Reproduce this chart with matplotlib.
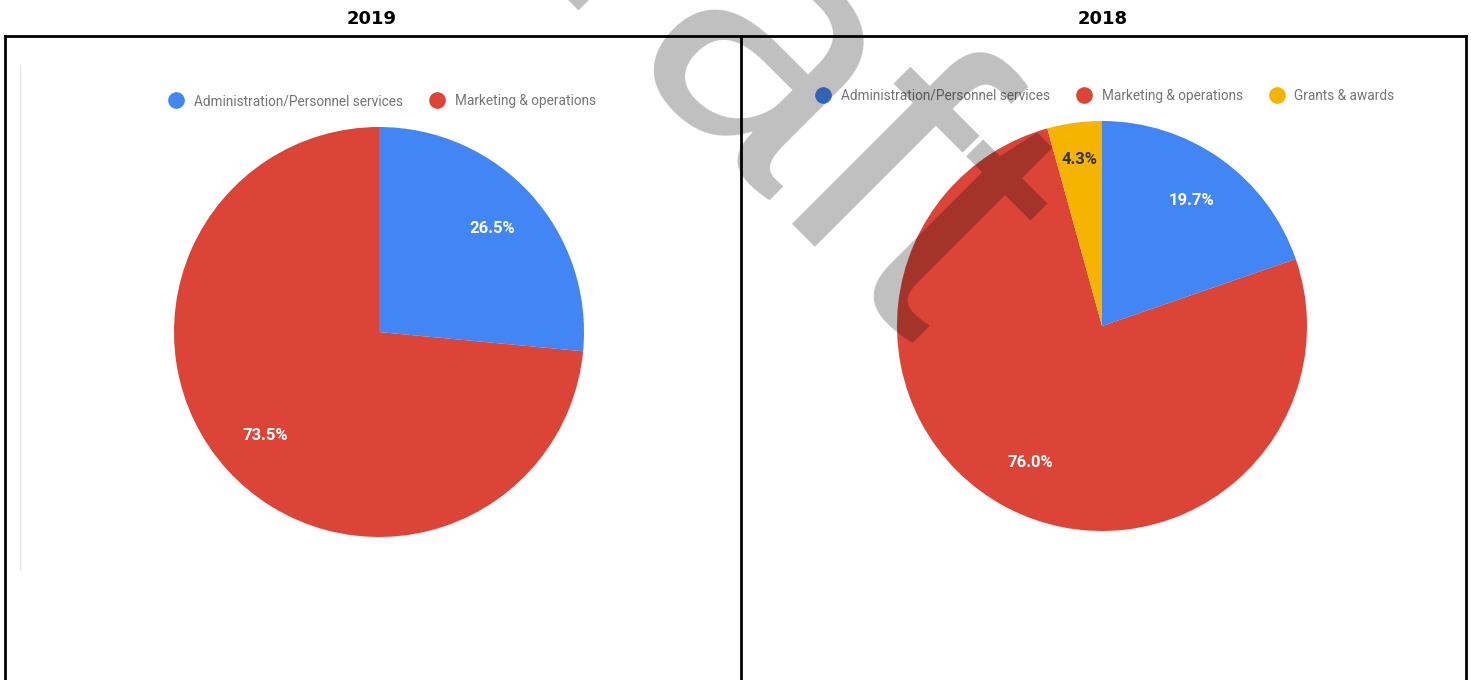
import matplotlib.pyplot as plt
from matplotlib.lines import Line2D

# data
years = ["2019", "2018"]
labels_2019 = ["Administration/Personnel services", "Marketing & operations"]
values_2019 = [26.5, 73.5]
labels_2018 = ["Administration/Personnel services", "Marketing & operations", "Grants & awards"]
values_2018 = [19.7, 76.0, 4.3]

colors = ["#4285F4", "#DB4437", "#F4B400"]

W, H = 1471, 680
fig = plt.figure(figsize=(W / 100, H / 100), dpi=100)


def px_axes(cx, cy, r):
    # axes box in figure fraction from pixel centre/radius
    return fig.add_axes([(cx - r) / W, (H - cy - r) / H, 2 * r / W, 2 * r / H])


def draw_pie(ax, values, labels, leg_y, leg_x):
    wedges, texts, autotexts = ax.pie(values, colors=colors[:len(values)], startangle=90,
                                      counterclock=False, autopct="%.1f%%", pctdistance=0.75,
                                      wedgeprops=dict(linewidth=0))
    for t, v in zip(autotexts, values):
        t.set_color("white" if v > 10 else "#333333")
        t.set_fontsize(12)
        t.set_fontweight("bold")
        t.set_family("Roboto")
        if v < 10:
            x, y = t.get_position()
            t.set_position((x * 0.82 / 0.75, y * 0.82 / 0.75))
    ax.set_xlim(-1, 1)
    ax.set_ylim(-1, 1)
    ax.set_aspect("equal")
    handles = [Line2D([], [], marker="o", ls="", markersize=12, markerfacecolor=c, markeredgewidth=0)
               for c in colors[:len(values)]]
    fig.legend(handles, labels, loc="center", bbox_to_anchor=(leg_x / W, 1 - leg_y / H),
               ncol=len(labels), frameon=False, handletextpad=0.3, columnspacing=1.5,
               prop=dict(family="Roboto", size=9.8), labelcolor="#757575")


ax1 = px_axes(379, 332, 205)
draw_pie(ax1, values_2019, labels_2019, 101, 379)
ax2 = px_axes(1102, 326, 205)
draw_pie(ax2, values_2018, labels_2018, 96, 1102)

# titles
fig.text(372 / W, 1 - 19 / H, years[0], ha="center", va="center", fontsize=13, fontweight="bold")
fig.text(1103 / W, 1 - 19 / H, years[1], ha="center", va="center", fontsize=13, fontweight="bold")

# table borders
lw = 2
for xs, ys in [((5, 1466), (36, 36)), ((5, 5), (36, 680)), ((741, 741), (36, 680)), ((1466, 1466), (36, 680))]:
    fig.add_artist(Line2D([x / W for x in xs], [1 - y / H for y in ys], color="black", lw=lw))
fig.add_artist(Line2D([20 / W, 20 / W], [1 - 65 / H, 1 - 570 / H], color="#e6e6e6", lw=1))

# watermark
fig.text(690 / W, 1 - 18 / H, "Draft", rotation=-45, ha="center", va="center", fontsize=265,
         family="Liberation Sans", color="black", alpha=0.25, zorder=10)

fig.savefig("out.png", dpi=100)
